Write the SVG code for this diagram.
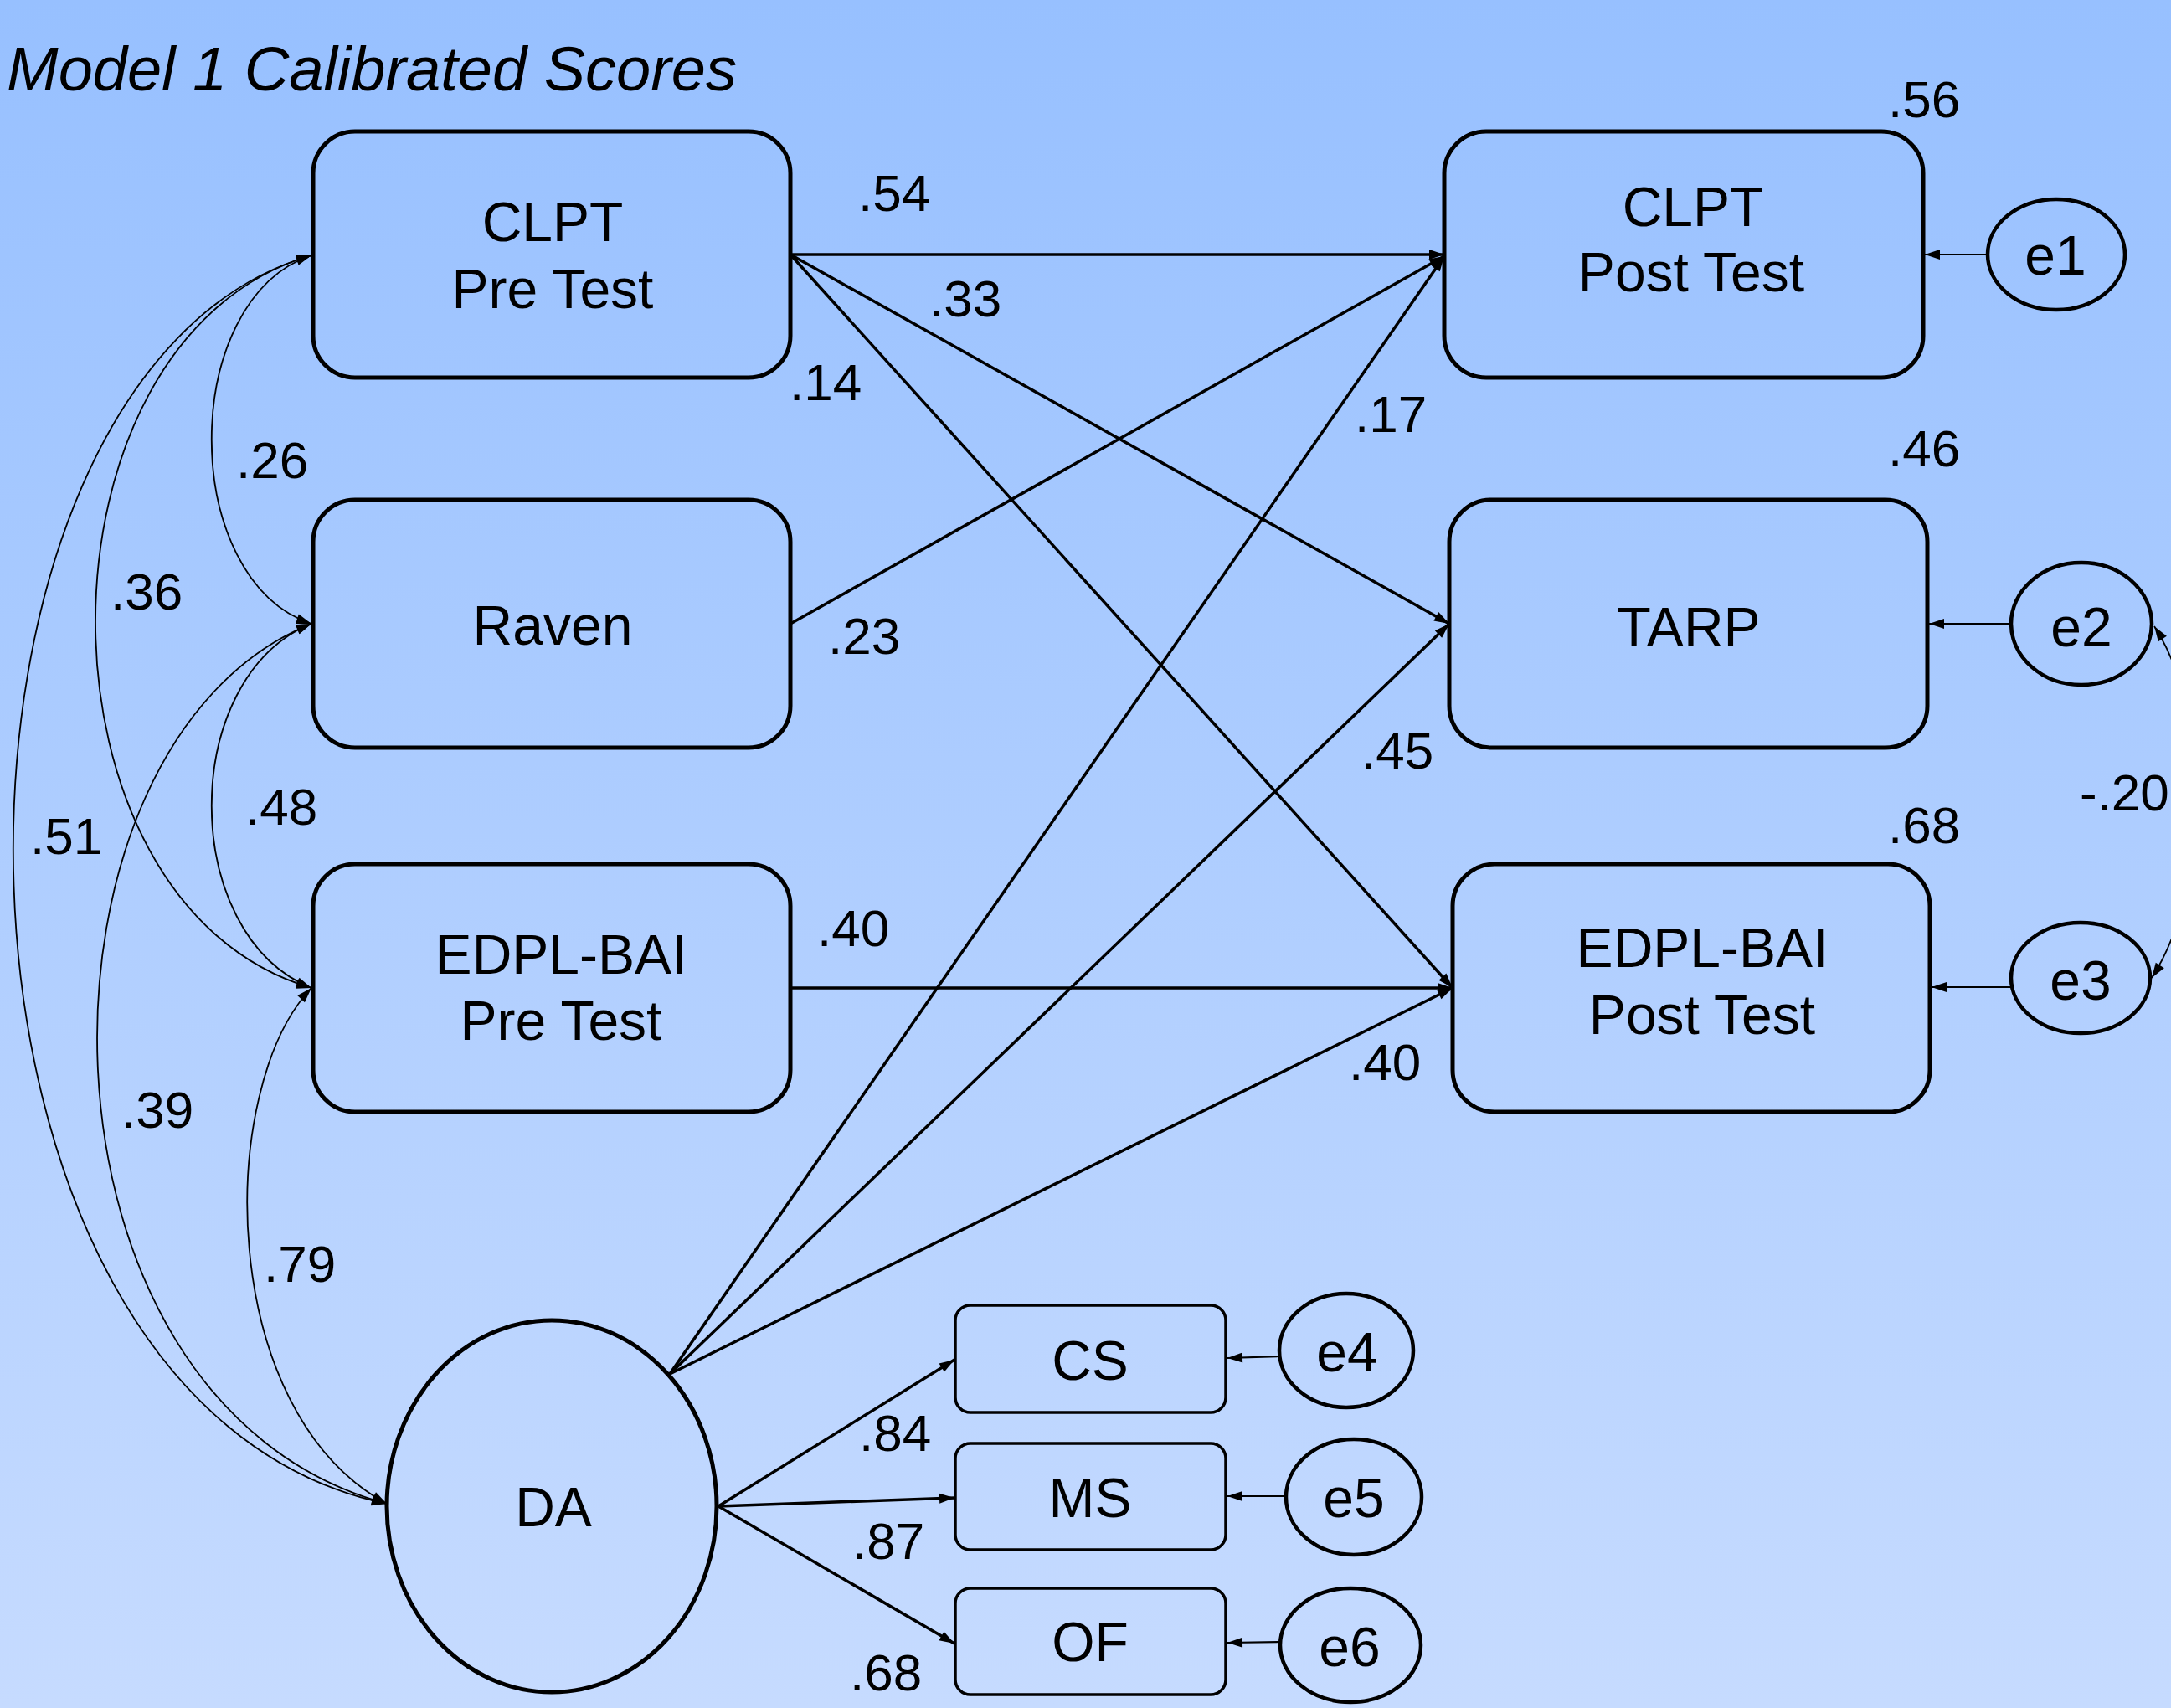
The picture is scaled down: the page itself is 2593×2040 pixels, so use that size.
<svg xmlns="http://www.w3.org/2000/svg" width="2593" height="2040" viewBox="0 0 2593 2040">
<defs>
<linearGradient id="bg" x1="0" y1="0" x2="0" y2="1">
<stop offset="0" stop-color="#97C0FF"/>
<stop offset="1" stop-color="#C6DBFF"/>
</linearGradient>
<marker id="ah" markerUnits="userSpaceOnUse" markerWidth="20" markerHeight="14" refX="18" refY="7" orient="auto-start-reverse" overflow="visible">
<path d="M0,1 L18,7 L0,13 z" fill="#000"/>
</marker>
</defs>
<style>
.box{fill:none;stroke:#000;stroke-width:5}
.sbox{fill:none;stroke:#000;stroke-width:3.5}
.ell{fill:none;stroke:#000;stroke-width:4.5}
.t{font-family:"Liberation Sans",Arial,sans-serif;font-size:66px;fill:#000;text-anchor:middle}
.n{font-family:"Liberation Sans",Arial,sans-serif;font-size:62px;fill:#000}
.p{fill:none;stroke:#000;stroke-width:3.5;marker-end:url(#ah)}
.e{fill:none;stroke:#000;stroke-width:2.2;marker-end:url(#ah)}
.c{fill:none;stroke:#000;stroke-width:1.8;marker-start:url(#ah);marker-end:url(#ah)}
</style>
<rect x="0" y="0" width="2593" height="2040" fill="url(#bg)"/>
<text x="8" y="108" font-family="Liberation Sans,Arial,sans-serif" font-style="italic" font-size="74" fill="#000">Model 1 Calibrated Scores</text>

<g id="connectors">
<path class="p" d="M944,304 L1725,304"/>
<path class="p" d="M944,304 L1731,745"/>
<path class="p" d="M944,304 L1735,1180"/>
<path class="p" d="M944,745 L1725,306"/>
<path class="p" d="M944,1180 L1735,1180"/>
<path class="p" d="M800,1641 L1725,306"/>
<path class="p" d="M800,1641 L1731,745"/>
<path class="p" d="M800,1641 L1735,1180"/>
<path class="p" d="M858,1799 L1140,1624"/>
<path class="p" d="M858,1799 L1140,1789"/>
<path class="p" d="M858,1799 L1140,1963"/>
<path class="e" d="M2374,304 L2299,304"/>
<path class="e" d="M2402,745 L2304,745"/>
<path class="e" d="M2402,1179 L2307,1179"/>
<path class="e" d="M1528,1620 L1466,1622"/>
<path class="e" d="M1536,1787 L1466,1787"/>
<path class="e" d="M1529,1961 L1466,1962"/>
<path class="c" d="M372,305 C213,358 213,692 372,745"/>
<path class="c" d="M372,305 C28,405 28,1080 372,1180"/>
<path class="c" d="M372,305 C-117,445 -117,1676 462,1796"/>
<path class="c" d="M372,745 C213,809 213,1116 372,1180"/>
<path class="c" d="M372,745 C17,887 17,1676 462,1796"/>
<path class="c" d="M372,1180 C258,1300 258,1686 462,1796"/>
<path class="c" d="M2570,1168 C2640,1060 2640,850 2573,748"/>
</g>

<g id="labels">
<text class="n" x="1025" y="252">.54</text>
<text class="n" x="1110" y="378">.33</text>
<text class="n" x="943" y="478">.14</text>
<text class="n" x="989" y="781">.23</text>
<text class="n" x="976" y="1130">.40</text>
<text class="n" x="1618" y="516">.17</text>
<text class="n" x="1626" y="918">.45</text>
<text class="n" x="1611" y="1290">.40</text>
<text class="n" x="2255" y="140">.56</text>
<text class="n" x="2255" y="557">.46</text>
<text class="n" x="2255" y="1007">.68</text>
<text class="n" x="1026" y="1733">.84</text>
<text class="n" x="1018" y="1862">.87</text>
<text class="n" x="1015" y="2019">.68</text>
<text class="n" x="2484" y="968">-.20</text>
<text class="n" x="282" y="571">.26</text>
<text class="n" x="132" y="728">.36</text>
<text class="n" x="36" y="1020">.51</text>
<text class="n" x="293" y="985">.48</text>
<text class="n" x="145" y="1347">.39</text>
<text class="n" x="315" y="1531">.79</text>
</g>

<g id="clpt_pre"><rect class="box" x="374" y="157" width="570" height="294" rx="50"/><text class="t" x="660" y="288">CLPT</text><text class="t" x="660" y="368">Pre Test</text></g>
<g id="raven"><rect class="box" x="374" y="597" width="570" height="296" rx="50"/><text class="t" x="660" y="770">Raven</text></g>
<g id="edpl_pre"><rect class="box" x="374" y="1032" width="570" height="296" rx="50"/><text class="t" x="670" y="1163">EDPL-BAI</text><text class="t" x="670" y="1242">Pre Test</text></g>
<g id="clpt_post"><rect class="box" x="1725" y="157" width="572" height="294" rx="50"/><text class="t" x="2022" y="270">CLPT</text><text class="t" x="2020" y="348">Post Test</text></g>
<g id="tarp"><rect class="box" x="1731" y="597" width="571" height="296" rx="50"/><text class="t" x="2017" y="772">TARP</text></g>
<g id="edpl_post"><rect class="box" x="1735" y="1032" width="570" height="296" rx="50"/><text class="t" x="2033" y="1155">EDPL-BAI</text><text class="t" x="2033" y="1235">Post Test</text></g>
<g id="da"><ellipse class="ell" cx="659" cy="1799" rx="197" ry="222" style="stroke-width:5"/><text class="t" x="661" y="1823">DA</text></g>
<g id="cs"><rect class="sbox" x="1141" y="1559" width="323" height="128" rx="18"/><text class="t" x="1302" y="1648">CS</text></g>
<g id="ms"><rect class="sbox" x="1141" y="1724" width="323" height="127" rx="18"/><text class="t" x="1302" y="1812">MS</text></g>
<g id="of"><rect class="sbox" x="1141" y="1897" width="323" height="127" rx="18"/><text class="t" x="1302" y="1984">OF</text></g>
<g id="e1"><ellipse class="ell" cx="2456" cy="304" rx="82" ry="66"/><text class="t" x="2455" y="328">e1</text></g>
<g id="e2"><ellipse class="ell" cx="2486" cy="745" rx="84" ry="73"/><text class="t" x="2486" y="772">e2</text></g>
<g id="e3"><ellipse class="ell" cx="2485" cy="1168" rx="83" ry="66"/><text class="t" x="2485" y="1194">e3</text></g>
<g id="e4"><ellipse class="ell" cx="1608" cy="1613" rx="80" ry="68"/><text class="t" x="1609" y="1638">e4</text></g>
<g id="e5"><ellipse class="ell" cx="1617" cy="1788" rx="81" ry="69"/><text class="t" x="1617" y="1812">e5</text></g>
<g id="e6"><ellipse class="ell" cx="1613" cy="1965" rx="84" ry="68"/><text class="t" x="1612" y="1990">e6</text></g>
</svg>
